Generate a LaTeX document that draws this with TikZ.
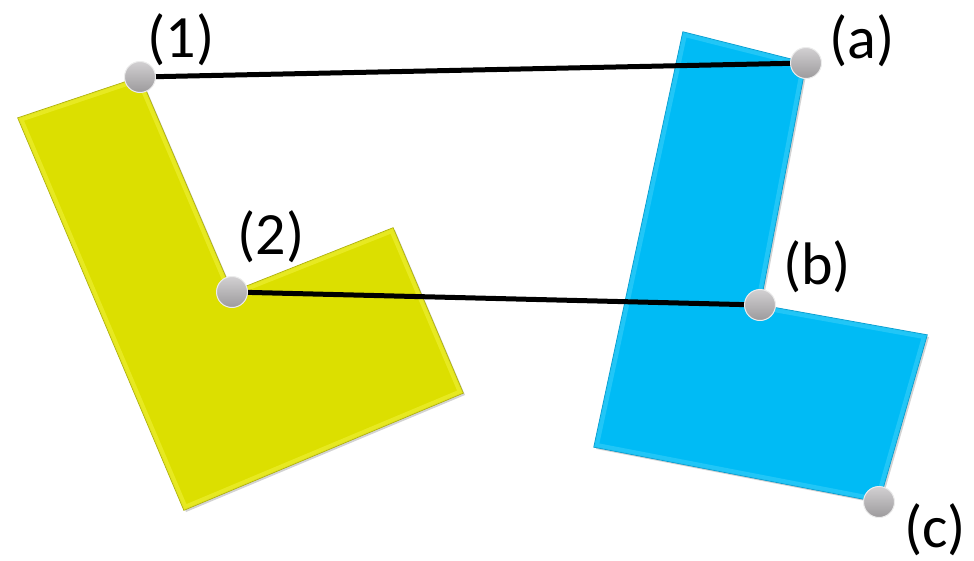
\documentclass[tikz,border=0pt]{standalone}
\usepackage{fontspec}
\setmainfont{Carlito}
\usetikzlibrary{shadows}

\definecolor{lyellow}{HTML}{DCDF00}
\definecolor{lylight}{HTML}{ECEE30}
\definecolor{lyedge}{HTML}{A8AA00}
\definecolor{lblue}{HTML}{00BBF5}
\definecolor{lblight}{HTML}{30CCF8}
\definecolor{lbedge}{HTML}{0098CC}
\definecolor{dotlight}{HTML}{D2D0D2}
\definecolor{dotdark}{HTML}{9C9A9C}

\tikzset{
  piece/.style={line width=1.2pt, line join=miter,
    drop shadow={shadow xshift=2pt, shadow yshift=-2pt, opacity=0.35}},
  bevel/.style={line width=9pt, line join=miter, opacity=0.7},
  link/.style={line width=5pt, black},
  dot/.style={circle, minimum size=31pt, inner sep=0pt, draw=white!85!gray,
    line width=1pt, top color=dotlight, bottom color=dotdark},
  lbl/.style={font=\fontsize{60}{64}\selectfont, inner sep=0pt}
}

\begin{document}
\begin{tikzpicture}[x=1pt,y=-1pt]
    \useasboundingbox (0,0) rectangle (974,560);

    % corner points
    \coordinate (c1) at (140,77);
    \coordinate (c2) at (232,292);
    \coordinate (ca) at (806,63);
    \coordinate (cb) at (760,305);
    \coordinate (cc) at (879,502);

    % yellow L
    \draw[piece, fill=lyellow, draw=lyedge]
        (18,118) -- (c1) -- (c2) -- (393,228) -- (463,393) -- (184,510) -- cycle;
    \begin{scope}
      \clip (18,118) -- (c1) -- (c2) -- (393,228) -- (463,393) -- (184,510) -- cycle;
      \draw[bevel, lylight]
        (18,118) -- (c1) -- (c2) -- (393,228) -- (463,393) -- (184,510) -- cycle;
    \end{scope}
    % blue L
    \draw[piece, fill=lblue, draw=lbedge]
        (683,32) -- (ca) -- (cb) -- (927,335) -- (cc) -- (594,447) -- cycle;
    \begin{scope}
      \clip (683,32) -- (ca) -- (cb) -- (927,335) -- (cc) -- (594,447) -- cycle;
      \draw[bevel, lblight]
        (683,32) -- (ca) -- (cb) -- (927,335) -- (cc) -- (594,447) -- cycle;
    \end{scope}

    % matching lines
    \draw[link] (c1) -- (ca);
    \draw[link] (c2) -- (cb);

    \node[dot] (p1) at (c1) {};
    \node[dot] (p2) at (c2) {};
    \node[dot] (pa) at (ca) {};
    \node[dot] (pb) at (cb) {};
    \node[dot] (pc) at (cc) {};

    \node[lbl] (l1) at (181,40) {(1)};
    \node[lbl] (l2) at (271,237) {(2)};
    \node[lbl] (la) at (862,41) {(a)};
    \node[lbl] (lb) at (817,267) {(b)};
    \node[lbl] (lc) at (935,530) {(c)};

\end{tikzpicture}
\end{document}
